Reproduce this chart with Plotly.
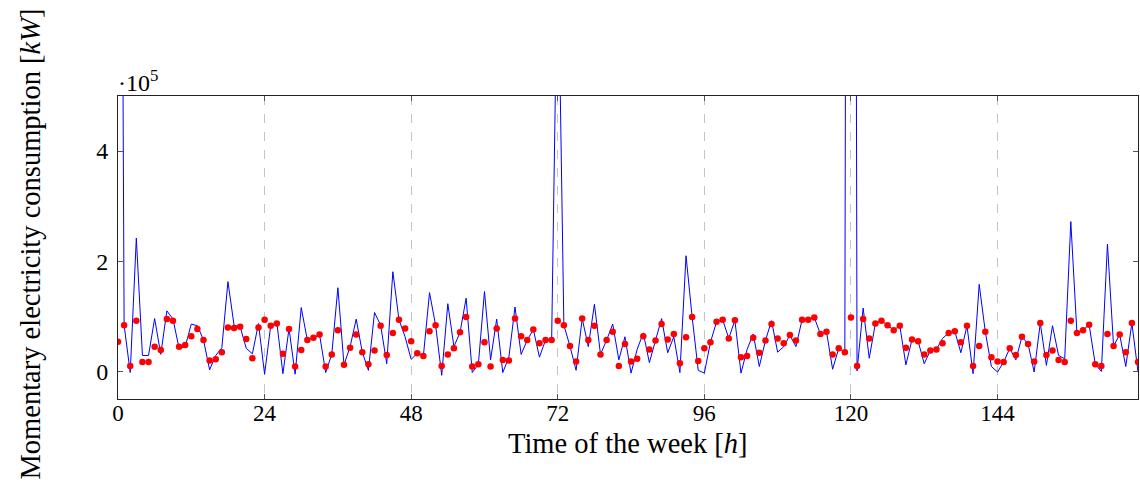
import plotly.graph_objects as go

# Hours of the week
hours = list(range(168))

# Measured consumption (blue line), kW
measured_kw = [
    2500000, 84000, -2000, 242000, 29000, 29000, 96000, 31000, 110000, 95000,
    42000, 45000, 86000, 83000, 57000, 3000, 29000, 43000, 163000, 84000,
    81000, 42000, 32000, 87000, -5000, 83000, 89000, -4000, 78000, -5000,
    116000, 57000, 61000, 67000, -2000, 31000, 152000, 12000, 45000, 95000,
    35000, 2000, 107000, 84000, 14000, 181000, 94000, 63000, 22000, 33000,
    28000, 143000, 84000, -7000, 123000, 45000, 71000, 133000, -2000, 13000,
    145000, 21000, 95000, -2000, 26000, 117000, 31000, 57000, 76000, 26000,
    57000, 57000, 800000, 84000, 46000, 2000, 96000, 45000, 122000, 31000,
    57000, 86000, 21000, 63000, -3000, 40000, 70000, 16000, 56000, 96000,
    34000, 63000, -2000, 210000, 99000, 2000, -3000, 53000, 90000, 94000,
    60000, 93000, -3000, 40000, 68000, 9000, 56000, 92000, 35000, 45000,
    66000, 45000, 94000, 94000, 98000, 68000, 72000, 4000, 42000, 35000,
    5000000, 1000, 115000, 24000, 87000, 92000, 84000, 75000, 83000, 12000,
    58000, 55000, 14000, 38000, 40000, 60000, 70000, 73000, 34000, 83000,
    -4000, 158000, 72000, 9000, -1000, 17000, 42000, 21000, 63000, 50000,
    -1000, 88000, 11000, 83000, 29000, 23000, 272000, 70000, 75000, 85000,
    13000, 0, 231000, 46000, 67000, 9000, 88000, -1000,
]

# Predicted consumption (red dots), kW
predicted_kw = [
    54000, 84000, 10000, 92000, 17000, 17000, 45000, 39000, 95000, 92000,
    45000, 48000, 64000, 77000, 57000, 20000, 22000, 35000, 80000, 79000,
    81000, 59000, 24000, 80000, 94000, 83000, 87000, 32000, 77000, 9000,
    39000, 57000, 61000, 67000, 9000, 31000, 75000, 12000, 43000, 67000,
    35000, 13000, 38000, 83000, 30000, 70000, 94000, 78000, 55000, 33000,
    28000, 73000, 84000, 10000, 31000, 42000, 71000, 99000, 9000, 13000,
    53000, 9000, 78000, 21000, 20000, 96000, 64000, 57000, 76000, 51000,
    57000, 57000, 92000, 84000, 46000, 18000, 96000, 57000, 83000, 31000,
    57000, 72000, 10000, 50000, 18000, 23000, 64000, 40000, 56000, 86000,
    58000, 68000, 15000, 62000, 99000, 19000, 42000, 53000, 90000, 94000,
    60000, 93000, 26000, 28000, 61000, 34000, 56000, 86000, 60000, 51000,
    66000, 56000, 94000, 94000, 98000, 68000, 72000, 31000, 42000, 35000,
    98000, 10000, 95000, 60000, 87000, 92000, 84000, 75000, 83000, 43000,
    58000, 55000, 31000, 38000, 40000, 51000, 70000, 73000, 53000, 83000,
    10000, 46000, 72000, 26000, 18000, 17000, 42000, 30000, 63000, 50000,
    18000, 88000, 30000, 38000, 21000, 17000, 92000, 70000, 75000, 85000,
    13000, 10000, 68000, 46000, 67000, 35000, 88000, 17000,
]

x_tick_vals = [0, 24, 48, 72, 96, 120, 144]
x_tick_text = ["0", "24", "48", "72", "96", "120", "144"]
y_tick_vals = [0, 200000, 400000]
y_tick_text = ["0", "2", "4"]

FONT = "Liberation Serif"

fig = go.Figure()
fig.add_trace(go.Scatter(
    x=hours, y=measured_kw, mode="lines",
    line=dict(color="#0000ff", width=1),
    showlegend=False, hoverinfo="skip",
))
fig.add_trace(go.Scatter(
    x=hours, y=predicted_kw, mode="markers",
    marker=dict(color="#ff0000", size=6.5, line=dict(width=0)),
    showlegend=False, hoverinfo="skip",
))

fig.update_layout(
    width=1140, height=488,
    margin=dict(l=118, r=2, t=96, b=89, autoexpand=False),
    paper_bgcolor="white", plot_bgcolor="white",
    font=dict(family=FONT, size=24, color="black"),
    hovermode=False,
    xaxis=dict(
        range=[0, 167], tickvals=x_tick_vals, ticktext=x_tick_text,
        automargin=False,
        showgrid=True, gridcolor="#c4c4c4", griddash="dash", gridwidth=1,
        zeroline=False, showline=True, linecolor="#222222", linewidth=1,
        mirror="all", ticks="inside", ticklen=5, tickcolor="#555555",
        tickfont=dict(family=FONT, size=23, color="black"),
        ticklabelstandoff=-7,
    ),
    yaxis=dict(
        range=[-50000, 500000], tickvals=y_tick_vals, ticktext=y_tick_text,
        automargin=False,
        showgrid=False, zeroline=False, showline=True, linecolor="#222222",
        linewidth=1, mirror="all", ticks="inside", ticklen=5,
        tickcolor="#555555", tickfont=dict(family=FONT, size=24, color="black"),
        ticklabelstandoff=4,
    ),
    annotations=[
        dict(text="·10<sup>5</sup>", xref="paper", yref="paper", x=0, y=1,
             xanchor="left", yanchor="bottom", showarrow=False, xshift=-2,
             yshift=-2, font=dict(family=FONT, size=24)),
        dict(text="Time of the week [<i>h</i>]", xref="paper", yref="paper",
             x=0.5, y=0, xanchor="center", yanchor="top", showarrow=False,
             yshift=-27, font=dict(family=FONT, size=28.5)),
        dict(text="Momentary electricity consumption [<i>kW</i>]",
             xref="paper", yref="paper", x=0, y=0.5, xanchor="center",
             yanchor="middle", textangle=-90, showarrow=False, xshift=-88,
             yshift=3, font=dict(family=FONT, size=28.5)),
    ],
)

fig.write_html(
    "out.html",
    config={"displayModeBar": False, "staticPlot": True},
    post_script="document.body.style.margin='0';document.body.style.overflow='hidden';",
)
